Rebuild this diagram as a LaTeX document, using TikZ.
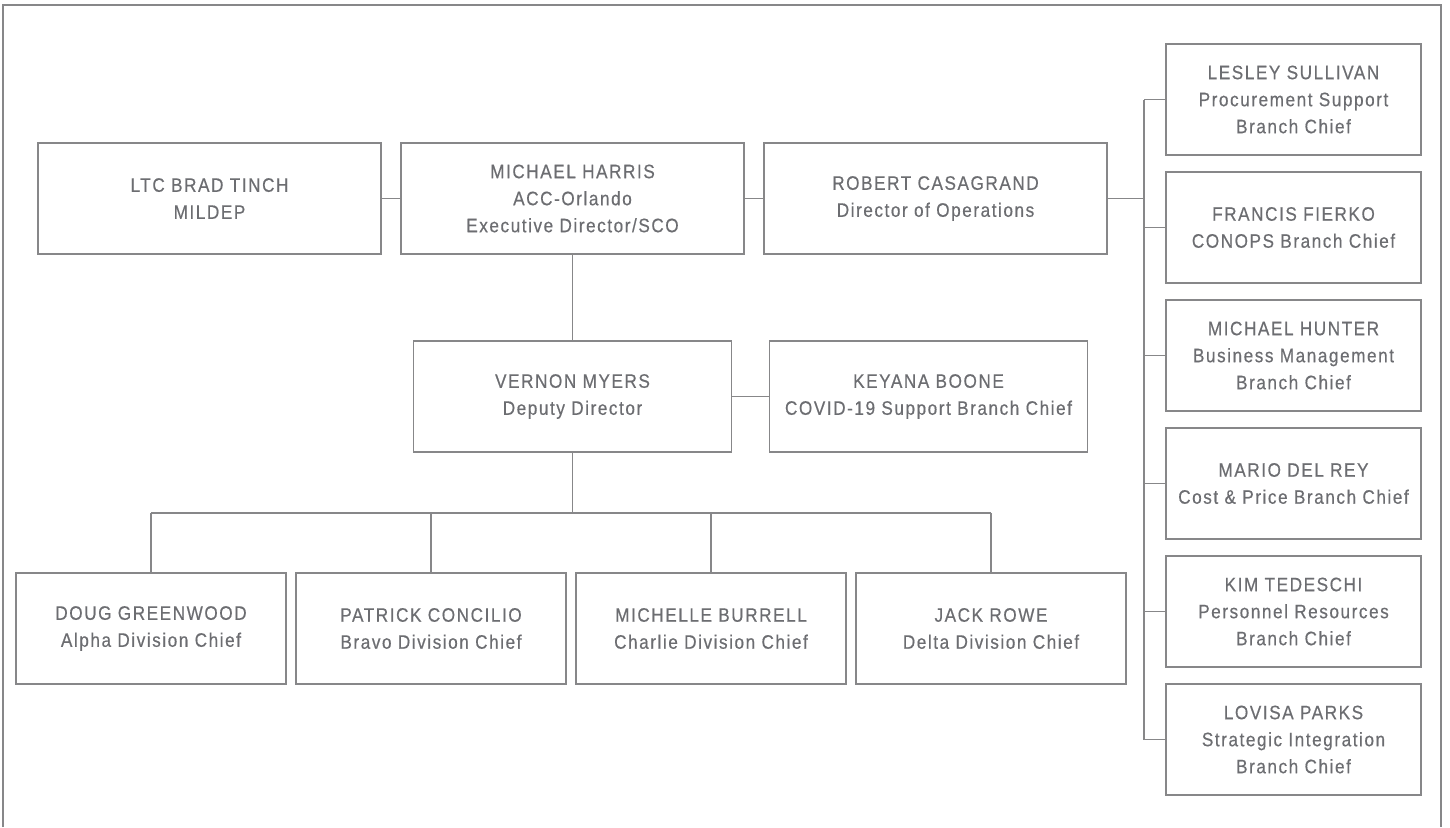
\documentclass[tikz,border=0pt]{standalone}
\usepackage{fontspec}
\setmainfont{Liberation Sans}[FakeStretch=0.88,LetterSpace=8,FakeBold=0.5]
\usetikzlibrary{positioning}
\definecolor{linegray}{RGB}{135,135,137}
\definecolor{textgray}{RGB}{108,109,113}

\begin{document}
\begin{tikzpicture}[x=1pt,y=-1pt,thick,
      every node/.style={font=\fontsize{19.5}{27}\selectfont,text=textgray},
      unit node/.style={rectangle,draw=linegray,line width=1.4pt,align=center,
        minimum height=111pt,inner sep=0pt,outer sep=0pt},
      top node/.style={unit node,minimum width=343pt},
      deputy node/.style={unit node,minimum width=318pt},
      division node/.style={unit node,minimum width=270pt},
      branch node/.style={unit node,minimum width=255pt},
      link/.style={draw=linegray,line width=1.4pt}]

    \useasboundingbox (0,0) rectangle (1450,827);
    \draw[link,line width=1.5pt] (3,827) -- (3,5) -- (1441,5) -- (1441,827);

    % top row
    \node[top node] (tinch) at (209.5,198.5) {LTC BRAD TINCH\\MILDEP};
    \node[top node] (harris) [right=20pt of tinch] {MICHAEL HARRIS\\ACC-Orlando\\Executive Director/SCO};
    \node[top node] (casagrand) [right=20pt of harris] {ROBERT CASAGRAND\\Director of Operations};

    % deputy row
    \node[deputy node] (myers) at (572.5,396.5) {VERNON MYERS\\Deputy Director};
    \node[deputy node] (boone) [right=38pt of myers] {KEYANA BOONE\\COVID-19 Support Branch Chief};

    % divisions
    \node[division node] (greenwood) at (151,628.5) {DOUG GREENWOOD\\Alpha Division Chief};
    \node[division node] (concilio) [right=10pt of greenwood] {PATRICK CONCILIO\\Bravo Division Chief};
    \node[division node] (burrell) [right=10pt of concilio] {MICHELLE BURRELL\\Charlie Division Chief};
    \node[division node] (rowe) [right=10pt of burrell] {JACK ROWE\\Delta Division Chief};

    % branches
    \node[branch node] (sullivan) at (1293.5,99.5) {LESLEY SULLIVAN\\Procurement Support\\Branch Chief};
    \node[branch node] (fierko) [below=17pt of sullivan] {FRANCIS FIERKO\\CONOPS Branch Chief};
    \node[branch node] (hunter) [below=17pt of fierko] {MICHAEL HUNTER\\Business Management\\Branch Chief};
    \node[branch node] (delrey) [below=17pt of hunter] {MARIO DEL REY\\Cost \& Price Branch Chief};
    \node[branch node] (tedeschi) [below=17pt of delrey] {KIM TEDESCHI\\Personnel Resources\\Branch Chief};
    \node[branch node] (parks) [below=17pt of tedeschi] {LOVISA PARKS\\Strategic Integration\\Branch Chief};

    \coordinate (rail) at ([xshift=-22pt]sullivan.west |- casagrand.east);
    \coordinate (bus) at ([yshift=-61pt]myers.south);

    \path[link]
    (tinch) edge (harris)
    (harris) edge (casagrand)
    (harris) edge (myers)
    (myers) edge (boone)
    (casagrand.east) edge (rail)
    (myers.south) edge (bus);

    \draw[link] (rail |- sullivan.west) -- (rail |- parks.west);
    \foreach \b in {sullivan,fierko,hunter,delrey,tedeschi,parks}
      \draw[link] (\b.west) -- (rail |- \b.west);

    \draw[link] (greenwood.north |- bus) -- (rowe.north |- bus);
    \foreach \d in {greenwood,concilio,burrell,rowe}
      \draw[link] (\d.north) -- (\d.north |- bus);
  \end{tikzpicture}
\end{document}
